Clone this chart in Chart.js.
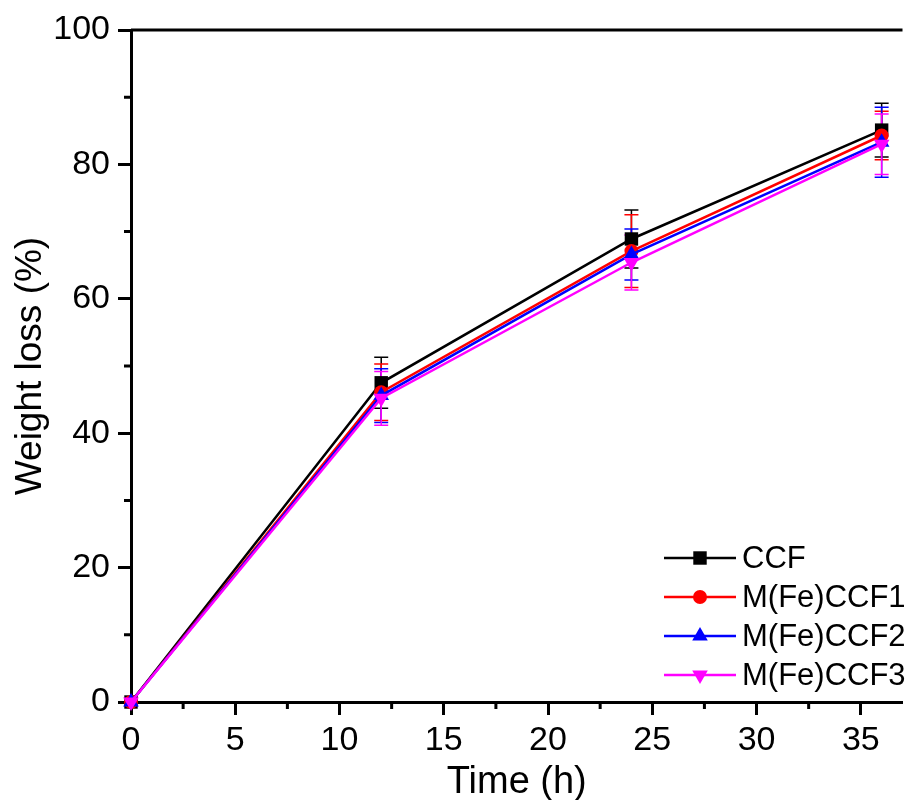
<!DOCTYPE html>
<html>
<head>
<meta charset="utf-8">
<script src="https://cdn.jsdelivr.net/npm/chart.js@4.4.1/dist/chart.umd.min.js"></script>
<style>
  html, body { margin: 0; padding: 0; background: #fff; overflow: hidden; }
</style>
</head>
<body>
<canvas id="weightLoss" width="912" height="800"></canvas>
<script>
// data
const times = [0, 12, 24, 36];
const ccf = [0, 47.5, 68.9, 85.1];
const ccfErr = [0, 3.8, 4.3, 4.0];
const fe1 = [0, 46.1, 67.1, 84.3];
const fe1Err = [0, 4.2, 5.4, 3.6];
const fe2 = [0, 45.6, 66.6, 83.3];
const fe2Err = [0, 4.0, 3.8, 5.2];
const fe3 = [0, 45.2, 65.4, 83.0];
const fe3Err = [0, 4.0, 4.1, 4.5];

const xTicks = [0, 5, 10, 15, 20, 25, 30, 35];
const yTicks = [0, 20, 40, 60, 80, 100];
const xMinor = [2.5, 7.5, 12.5, 17.5, 22.5, 27.5, 32.5];
const yMinor = [10, 30, 50, 70, 90];

const names = ['CCF', 'M(Fe)CCF1', 'M(Fe)CCF2', 'M(Fe)CCF3'];
const colors = ['#000000', '#ff0000', '#0000ff', '#ff00ff'];
const shapes = ['rect', 'circle', 'triangle', 'triangle'];
const rotations = [0, 0, 0, 180];
const radii = [9.5, 7, 9, 9];

const values = [ccf, fe1, fe2, fe3];
const errors = [ccfErr, fe1Err, fe2Err, fe3Err];

const FONT = '"Liberation Sans", Arial, sans-serif';

function toPoints(ys) {
  return times.map((t, i) => ({ x: t, y: ys[i] }));
}

const datasets = values.map((v, k) => ({
  label: names[k],
  data: toPoints(v),
  borderColor: colors[k],
  backgroundColor: colors[k],
  borderWidth: 2.5,
  pointStyle: shapes[k],
  pointRotation: rotations[k],
  pointRadius: radii[k],
  pointBorderWidth: 0,
  tension: 0,
  clip: false,
  order: 4 - k,
  errs: errors[k]
}));

function marker(ctx, shape, x, y, r, rot, color) {
  ctx.save();
  ctx.fillStyle = color;
  ctx.translate(x, y);
  ctx.rotate(rot * Math.PI / 180);
  ctx.beginPath();
  if (shape === 'rect') {
    const s = r * Math.SQRT1_2;
    ctx.rect(-s, -s, 2 * s, 2 * s);
  } else if (shape === 'circle') {
    ctx.arc(0, 0, r, 0, Math.PI * 2);
  } else {
    ctx.moveTo(0, -r);
    ctx.lineTo(r * Math.sin(Math.PI / 3), r / 2);
    ctx.lineTo(-r * Math.sin(Math.PI / 3), r / 2);
    ctx.closePath();
  }
  ctx.fill();
  ctx.restore();
}

const errorBars = {
  id: 'errorBars',
  beforeDatasetsDraw(chart) {
    const ctx = chart.ctx;
    const xs = chart.scales.x, ys = chart.scales.y;
    chart.data.datasets.forEach((ds) => {
      ctx.save();
      ctx.strokeStyle = ds.borderColor;
      ctx.lineWidth = 1.5;
      ds.data.forEach((p, i) => {
        const e = ds.errs[i];
        if (!e) return;
        const px = xs.getPixelForValue(p.x);
        const top = ys.getPixelForValue(p.y + e);
        const bot = ys.getPixelForValue(p.y - e);
        ctx.beginPath();
        ctx.moveTo(px, top); ctx.lineTo(px, bot);
        ctx.moveTo(px - 7, top); ctx.lineTo(px + 7, top);
        ctx.moveTo(px - 7, bot); ctx.lineTo(px + 7, bot);
        ctx.stroke();
      });
      ctx.restore();
    });
  }
};

const frame = {
  id: 'frame',
  afterDraw(chart) {
    const ctx = chart.ctx;
    const a = chart.chartArea;
    const xs = chart.scales.x, ys = chart.scales.y;
    ctx.save();
    ctx.strokeStyle = '#000';
    ctx.lineWidth = 3;
    ctx.beginPath();
    ctx.moveTo(a.left, a.top); ctx.lineTo(a.right, a.top);
    ctx.stroke();
    ctx.beginPath();
    xMinor.forEach(v => {
      const px = xs.getPixelForValue(v);
      ctx.moveTo(px, a.bottom); ctx.lineTo(px, a.bottom + 7);
    });
    yMinor.forEach(v => {
      const py = ys.getPixelForValue(v);
      ctx.moveTo(a.left, py); ctx.lineTo(a.left - 7, py);
    });
    ctx.stroke();

    // legend: line with marker, then the name
    const rows = [558, 597, 636, 675];
    ctx.font = '31px ' + FONT;
    ctx.textBaseline = 'middle';
    ctx.textAlign = 'left';
    names.forEach((n, k) => {
      const y = rows[k];
      ctx.strokeStyle = colors[k];
      ctx.lineWidth = 2.5;
      ctx.beginPath();
      ctx.moveTo(664, y); ctx.lineTo(736, y);
      ctx.stroke();
      marker(ctx, shapes[k], 700, y, radii[k], rotations[k], colors[k]);
      ctx.fillStyle = '#000';
      ctx.fillText(n, 742, y + 1);
    });
    ctx.restore();
  }
};

const ctx = document.getElementById('weightLoss').getContext('2d');
new Chart(ctx, {
  type: 'line',
  data: { datasets: datasets },
  options: {
    responsive: false,
    animation: false,
    layout: { padding: { top: 30, right: 0, left: 0, bottom: 0 } },
    plugins: { legend: { display: false }, tooltip: { enabled: false } },
    scales: {
      x: {
        type: 'linear',
        min: 0,
        max: 37,
        afterFit: s => { s.height = 98; },
        afterBuildTicks: s => { s.ticks = xTicks.map(v => ({ value: v })); },
        ticks: {
          color: '#000',
          font: { family: FONT, size: 34 },
          padding: 5,
          maxRotation: 0,
          autoSkip: false
        },
        grid: { drawOnChartArea: false, tickLength: 13, tickWidth: 3, tickColor: '#000' },
        border: { color: '#000', width: 3 },
        title: {
          display: true,
          text: 'Time (h)',
          color: '#000',
          font: { family: FONT, size: 38, lineHeight: 1 },
          padding: { top: 0, bottom: -2 }
        }
      },
      y: {
        min: 0,
        max: 100,
        afterFit: s => { s.width = 131; },
        afterBuildTicks: s => { s.ticks = yTicks.map(v => ({ value: v })); },
        ticks: {
          color: '#000',
          font: { family: FONT, size: 34 },
          padding: 8
        },
        grid: { drawOnChartArea: false, tickLength: 13, tickWidth: 3, tickColor: '#000' },
        border: { color: '#000', width: 3 },
        title: {
          display: true,
          text: 'Weight loss (%)',
          color: '#000',
          font: { family: FONT, size: 37, lineHeight: 1 },
          padding: { top: 12, bottom: 0 }
        }
      }
    }
  },
  plugins: [errorBars, frame]
});
</script>
</body>
</html>
